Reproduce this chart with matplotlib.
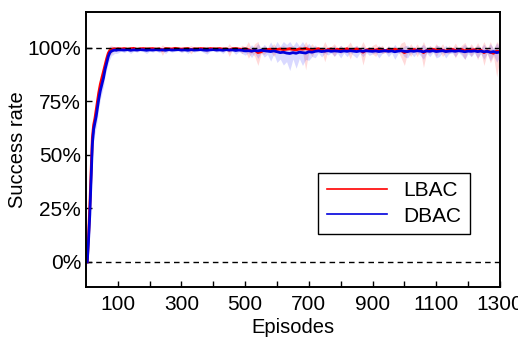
import numpy as np
import matplotlib
matplotlib.use("Agg")
import matplotlib.pyplot as plt

plt.rcParams["font.family"] = ["Liberation Sans", "DejaVu Sans"]

# episode grid: dense at the start, every 10 episodes afterwards
episodes = np.concatenate([
    [4, 8, 12, 16, 20, 24, 28, 32, 36, 40, 45, 50, 55, 60, 65, 70, 75, 80, 85, 90, 95, 100],
    np.arange(110, 1301, 10),
])

lbac_mean = [
    0.00, 0.12, 0.26, 0.42, 0.58, 0.64, 0.67, 0.71, 0.75, 0.79, 0.83,
    0.86, 0.89, 0.92, 0.95, 0.975, 0.988, 0.993, 0.995, 0.996, 0.994, 0.996,
    0.995, 0.997, 0.994, 0.996, 0.998, 0.993, 0.996, 0.997, 0.995, 0.996,
    0.997, 0.994, 0.996, 0.990, 0.997, 0.996, 0.995, 0.998, 0.996, 0.994,
    0.996, 0.997, 0.992, 0.996, 0.995, 0.997, 0.996, 0.993, 0.997, 0.996,
    0.995, 0.997, 0.994, 0.996, 0.990, 0.996, 0.997, 0.995, 0.993, 0.996,
    0.992, 0.985, 0.990, 0.978, 0.982, 0.990, 0.993, 0.994, 0.990, 0.993,
    0.995, 0.992, 0.994, 0.996, 0.993, 0.991, 0.995, 0.994, 0.997, 0.993,
    0.990, 0.994, 0.996, 0.992, 0.985, 0.993, 0.995, 0.990, 0.994, 0.992,
    0.993, 0.996, 0.988, 0.993, 0.995, 0.992, 0.980, 0.990, 0.994, 0.992,
    0.990, 0.995, 0.993, 0.986, 0.993, 0.991, 0.994, 0.990, 0.988, 0.978,
    0.985, 0.990, 0.993, 0.989, 0.992, 0.978, 0.988, 0.992, 0.994, 0.990,
    0.993, 0.990, 0.985, 0.992, 0.994, 0.988, 0.990, 0.993, 0.986, 0.992,
    0.990, 0.992, 0.985, 0.990, 0.978, 0.986, 0.980, 0.975, 0.985, 0.982,
]
lbac_spread = [
    0.02, 0.04, 0.05, 0.05, 0.05, 0.04, 0.04, 0.04, 0.04, 0.04, 0.04,
    0.03, 0.03, 0.03, 0.03, 0.03, 0.02, 0.02, 0.01, 0.01, 0.01, 0.01,
    0.004, 0.008, 0.003, 0.012, 0.004, 0.010, 0.003, 0.008, 0.004, 0.006,
    0.004, 0.010, 0.003, 0.025, 0.004, 0.008, 0.003, 0.006, 0.004, 0.012,
    0.003, 0.008, 0.020, 0.004, 0.010, 0.003, 0.008, 0.015, 0.003, 0.006,
    0.010, 0.004, 0.012, 0.003, 0.030, 0.004, 0.006, 0.003, 0.020, 0.008,
    0.040, 0.010, 0.030, 0.060, 0.008, 0.020, 0.006, 0.012, 0.030, 0.006,
    0.008, 0.020, 0.005, 0.010, 0.018, 0.005, 0.015, 0.008, 0.100, 0.010,
    0.030, 0.006, 0.010, 0.004, 0.050, 0.006, 0.012, 0.030, 0.005, 0.020,
    0.006, 0.012, 0.040, 0.005, 0.015, 0.006, 0.060, 0.010, 0.005, 0.020,
    0.030, 0.005, 0.020, 0.006, 0.018, 0.005, 0.015, 0.006, 0.035, 0.060,
    0.008, 0.030, 0.005, 0.030, 0.006, 0.070, 0.008, 0.020, 0.005, 0.030,
    0.006, 0.030, 0.008, 0.020, 0.005, 0.035, 0.008, 0.020, 0.040, 0.006,
    0.030, 0.006, 0.040, 0.008, 0.060, 0.010, 0.050, 0.015, 0.120, 0.030,
]

dbac_mean = [
    0.00, 0.10, 0.22, 0.38, 0.55, 0.62, 0.65, 0.68, 0.72, 0.76, 0.80,
    0.83, 0.86, 0.90, 0.93, 0.96, 0.978, 0.985, 0.988, 0.990, 0.989, 0.991,
    0.991, 0.990, 0.992, 0.989, 0.991, 0.990, 0.992, 0.991, 0.989, 0.991,
    0.990, 0.992, 0.990, 0.991, 0.989, 0.992, 0.990, 0.991, 0.992, 0.990,
    0.991, 0.989, 0.992, 0.990, 0.991, 0.992, 0.990, 0.989, 0.991, 0.992,
    0.990, 0.991, 0.989, 0.992, 0.990, 0.991, 0.988, 0.990, 0.989, 0.986,
    0.987, 0.985, 0.988, 0.986, 0.989, 0.987, 0.985, 0.983, 0.986, 0.982,
    0.978, 0.980, 0.976, 0.974, 0.978, 0.975, 0.980, 0.978, 0.976, 0.982,
    0.980, 0.984, 0.986, 0.983, 0.985, 0.987, 0.984, 0.986, 0.985, 0.983,
    0.986, 0.984, 0.987, 0.985, 0.983, 0.986, 0.984, 0.987, 0.985, 0.984,
    0.986, 0.983, 0.985, 0.987, 0.984, 0.986, 0.982, 0.985, 0.987, 0.984,
    0.983, 0.986, 0.984, 0.987, 0.985, 0.982, 0.986, 0.984, 0.987, 0.983,
    0.985, 0.987, 0.983, 0.985, 0.986, 0.984, 0.987, 0.985, 0.982, 0.985,
    0.984, 0.986, 0.983, 0.985, 0.982, 0.984, 0.980, 0.983, 0.978, 0.981,
]
dbac_spread = [
    0.02, 0.04, 0.05, 0.05, 0.05, 0.05, 0.05, 0.05, 0.05, 0.04, 0.04,
    0.04, 0.04, 0.03, 0.03, 0.03, 0.03, 0.02, 0.02, 0.015, 0.015, 0.015,
    0.006, 0.012, 0.005, 0.015, 0.006, 0.010, 0.005, 0.008, 0.015, 0.006,
    0.010, 0.005, 0.012, 0.006, 0.015, 0.005, 0.010, 0.006, 0.005, 0.012,
    0.006, 0.015, 0.005, 0.010, 0.006, 0.005, 0.012, 0.018, 0.006, 0.005,
    0.010, 0.006, 0.015, 0.005, 0.010, 0.006, 0.018, 0.008, 0.015, 0.020,
    0.010, 0.030, 0.012, 0.035, 0.010, 0.030, 0.015, 0.045, 0.015, 0.050,
    0.030, 0.060, 0.040, 0.080, 0.030, 0.070, 0.030, 0.060, 0.030, 0.040,
    0.020, 0.030, 0.010, 0.025, 0.010, 0.020, 0.008, 0.025, 0.010, 0.030,
    0.010, 0.025, 0.008, 0.020, 0.030, 0.010, 0.025, 0.008, 0.020, 0.012,
    0.010, 0.030, 0.012, 0.008, 0.025, 0.010, 0.035, 0.012, 0.008, 0.025,
    0.030, 0.010, 0.025, 0.008, 0.020, 0.035, 0.010, 0.025, 0.008, 0.030,
    0.025, 0.008, 0.030, 0.012, 0.010, 0.025, 0.008, 0.020, 0.035, 0.012,
    0.025, 0.010, 0.030, 0.012, 0.035, 0.010, 0.040, 0.015, 0.045, 0.020,
]

x_major = [100, 300, 500, 700, 900, 1100, 1300]
x_minor = [200, 400, 600, 800, 1000, 1200]
y_ticks = [0, 0.25, 0.5, 0.75, 1.0]
y_labels = ["0%", "25%", "50%", "75%", "100%"]


fig = plt.figure(figsize=(5.18, 3.42), dpi=100)
ax = fig.add_axes([0.166, 0.161, 0.799, 0.804])

lm, ls = np.array(lbac_mean), np.array(lbac_spread)
dm, ds = np.array(dbac_mean), np.array(dbac_spread)

# band capped a little above 100%, the spread mostly shows the dips
ax.fill_between(episodes, lm - ls, np.minimum(lm + ls, 1.03), color="red", alpha=0.15, lw=0)
ax.fill_between(episodes, dm - ds, np.minimum(dm + ds, 1.03), color="blue", alpha=0.15, lw=0)
ax.plot(episodes, lm, color="red", lw=2.0, label="LBAC")
ax.plot(episodes, dm, color="#0000dd", lw=2.0, label="DBAC")

ax.axhline(1.0, color="black", lw=1, ls=(0, (4, 3)), zorder=3)
ax.axhline(0.0, color="black", lw=1, ls=(0, (4, 3)), zorder=1)

ax.set_xlim(0, 1300)
ax.set_ylim(-0.117, 1.168)
ax.set_xticks(x_major)
ax.set_xticks(x_minor, minor=True)
ax.set_yticks(y_ticks)
ax.set_yticklabels(y_labels)
ax.tick_params(which="both", direction="in", length=4, width=1, labelsize=15)
ax.tick_params(axis="x", pad=6)
for s in ax.spines.values():
    s.set_linewidth(1.4)

ax.set_xlabel("Episodes", fontsize=14.5, labelpad=3)
ax.set_ylabel("Success rate", fontsize=14.5, labelpad=0)

leg = ax.legend(loc="lower right", bbox_to_anchor=(0.928, 0.193), borderaxespad=0,
                fontsize=15, fancybox=False, edgecolor="black", framealpha=1,
                handlelength=2.9, handletextpad=0.8, borderpad=0.4, labelspacing=0.3)
leg.get_frame().set_linewidth(1.0)
for h in leg.get_lines():
    h.set_linewidth(1.2)

fig.savefig("out.png", dpi=100)
